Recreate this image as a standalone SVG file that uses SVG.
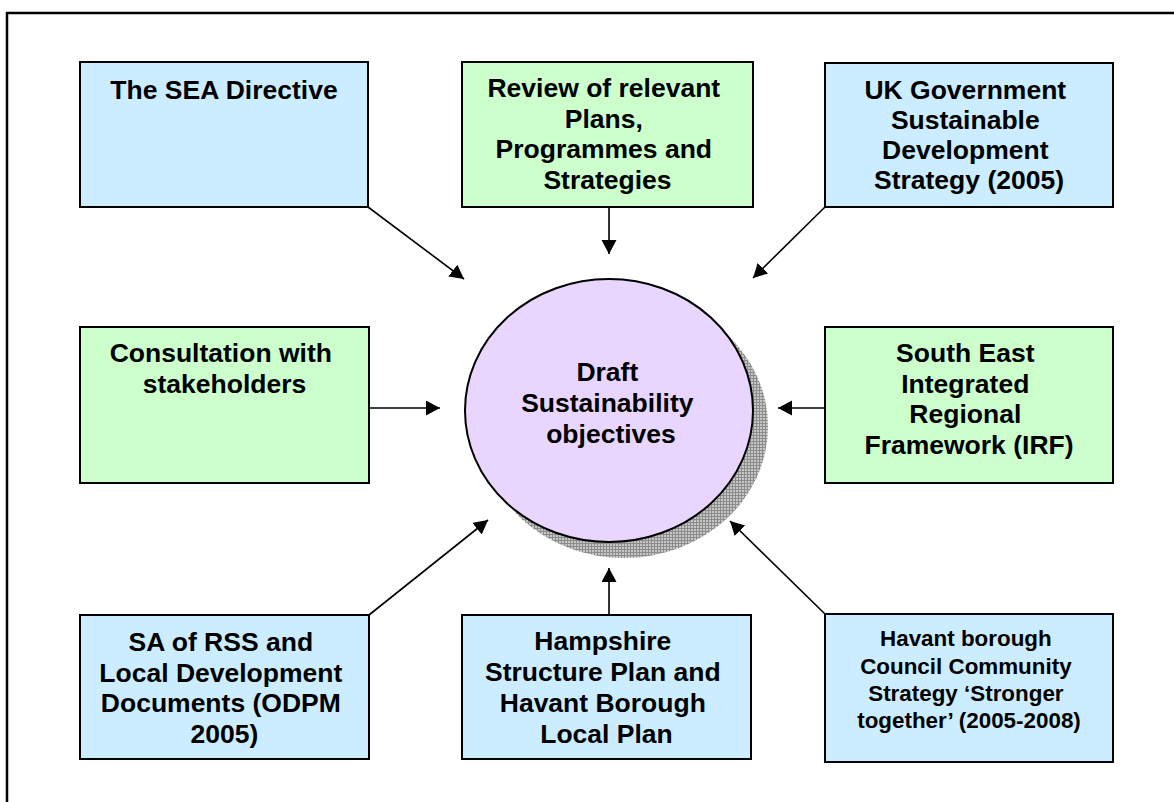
<svg xmlns="http://www.w3.org/2000/svg" width="1174" height="802" viewBox="0 0 1174 802">
  <style>
    .box { stroke: #000; stroke-width: 2; }
    .blue { fill: #CCECFF; }
    .green { fill: #CCFFCC; }
    .lbl { font-family: "Liberation Sans", Arial, sans-serif; font-weight: bold; font-size: 26.5px; fill: #000; text-anchor: middle; }
    .small { font-size: 22.4px; }
    .conn { stroke: #000; stroke-width: 1.6; fill: none; marker-end: url(#arrow); }
  </style>
  <defs>
    <marker id="arrow" markerUnits="userSpaceOnUse" markerWidth="15" markerHeight="16" refX="14" refY="7.5" orient="auto">
      <path d="M0,0 L14,7.5 L0,15 z" fill="#000"/>
    </marker>
    <!-- cross-hatched shadow texture -->
    <pattern id="hatch" width="3" height="3" patternUnits="userSpaceOnUse">
      <rect width="3" height="3" fill="#c6c6c6"/>
      <path d="M0,0.5 H3 M0.5,0 V3" stroke="#8c8c8c" stroke-width="1"/>
    </pattern>
  </defs>

  <rect width="1174" height="802" fill="#fff"/>
  <!-- outer frame (runs off the right and bottom edges) -->
  <rect x="7" y="13" width="1200" height="820" fill="none" stroke="#000" stroke-width="2.5"/>

  <g id="connectors">
    <line class="conn" x1="368" y1="207" x2="464" y2="279"/>
    <line class="conn" x1="609" y1="207" x2="609" y2="254"/>
    <line class="conn" x1="825" y1="207" x2="753" y2="278"/>
    <line class="conn" x1="369" y1="408" x2="440" y2="408"/>
    <line class="conn" x1="825" y1="408" x2="778" y2="408"/>
    <line class="conn" x1="369" y1="615" x2="488" y2="520"/>
    <line class="conn" x1="609" y1="615" x2="609" y2="568"/>
    <line class="conn" x1="825" y1="614" x2="730" y2="521"/>
  </g>

  <g id="sea-directive">
    <rect class="box blue" x="80" y="62" width="288" height="145"/>
    <text class="lbl" x="224" y="99">The SEA Directive</text>
  </g>

  <g id="review-plans">
    <rect class="box green" x="462" y="62" width="291" height="145"/>
    <text class="lbl" x="607.5" y="97">
      <tspan x="607.5" y="97">Review of relevant</tspan>
      <tspan x="607.5" y="127.5">Plans,</tspan>
      <tspan x="607.5" y="158">Programmes and</tspan>
      <tspan x="607.5" y="188.5">Strategies</tspan>
    </text>
  </g>

  <g id="uk-strategy">
    <rect class="box blue" x="825" y="63" width="288" height="144"/>
    <text class="lbl">
      <tspan x="969" y="98.5">UK Government</tspan>
      <tspan x="969" y="129">Sustainable</tspan>
      <tspan x="969" y="159">Development</tspan>
      <tspan x="969" y="189">Strategy (2005)</tspan>
    </text>
  </g>

  <g id="consultation">
    <rect class="box green" x="80" y="327" width="289" height="156"/>
    <text class="lbl">
      <tspan x="224.5" y="361.5">Consultation with</tspan>
      <tspan x="224.5" y="392.5">stakeholders</tspan>
    </text>
  </g>

  <g id="south-east-irf">
    <rect class="box green" x="825" y="327" width="288" height="156"/>
    <text class="lbl">
      <tspan x="969" y="361.5">South East</tspan>
      <tspan x="969" y="392.5">Integrated</tspan>
      <tspan x="969" y="422.5">Regional</tspan>
      <tspan x="969" y="453.5">Framework (IRF)</tspan>
    </text>
  </g>

  <g id="draft-objectives">
    <ellipse cx="624" cy="426.5" rx="144" ry="131.5" fill="url(#hatch)"/>
    <ellipse cx="609" cy="410.5" rx="144" ry="131.5" fill="#E8D6FF" stroke="#000" stroke-width="2"/>
    <text class="lbl">
      <tspan x="611" y="380.5">Draft</tspan>
      <tspan x="611" y="411.5">Sustainability</tspan>
      <tspan x="611" y="443">objectives</tspan>
    </text>
  </g>

  <g id="sa-rss">
    <rect class="box blue" x="80" y="615" width="289" height="144"/>
    <text class="lbl">
      <tspan x="224.5" y="650.5">SA of RSS and</tspan>
      <tspan x="224.5" y="681.5">Local Development</tspan>
      <tspan x="224.5" y="711.5">Documents (ODPM</tspan>
      <tspan x="224.5" y="742.5">2005)</tspan>
    </text>
  </g>

  <g id="hampshire-plan">
    <rect class="box blue" x="462" y="615" width="289" height="144"/>
    <text class="lbl">
      <tspan x="606.5" y="650">Hampshire</tspan>
      <tspan x="606.5" y="680.5">Structure Plan and</tspan>
      <tspan x="606.5" y="711.5">Havant Borough</tspan>
      <tspan x="606.5" y="742.5">Local Plan</tspan>
    </text>
  </g>

  <g id="havant-community">
    <rect class="box blue" x="825" y="614" width="288" height="148"/>
    <text class="lbl small">
      <tspan x="969" y="646">Havant borough</tspan>
      <tspan x="969" y="673.5">Council Community</tspan>
      <tspan x="969" y="700.5">Strategy ‘Stronger</tspan>
      <tspan x="969" y="727.5">together’ (2005-2008)</tspan>
    </text>
  </g>
</svg>
